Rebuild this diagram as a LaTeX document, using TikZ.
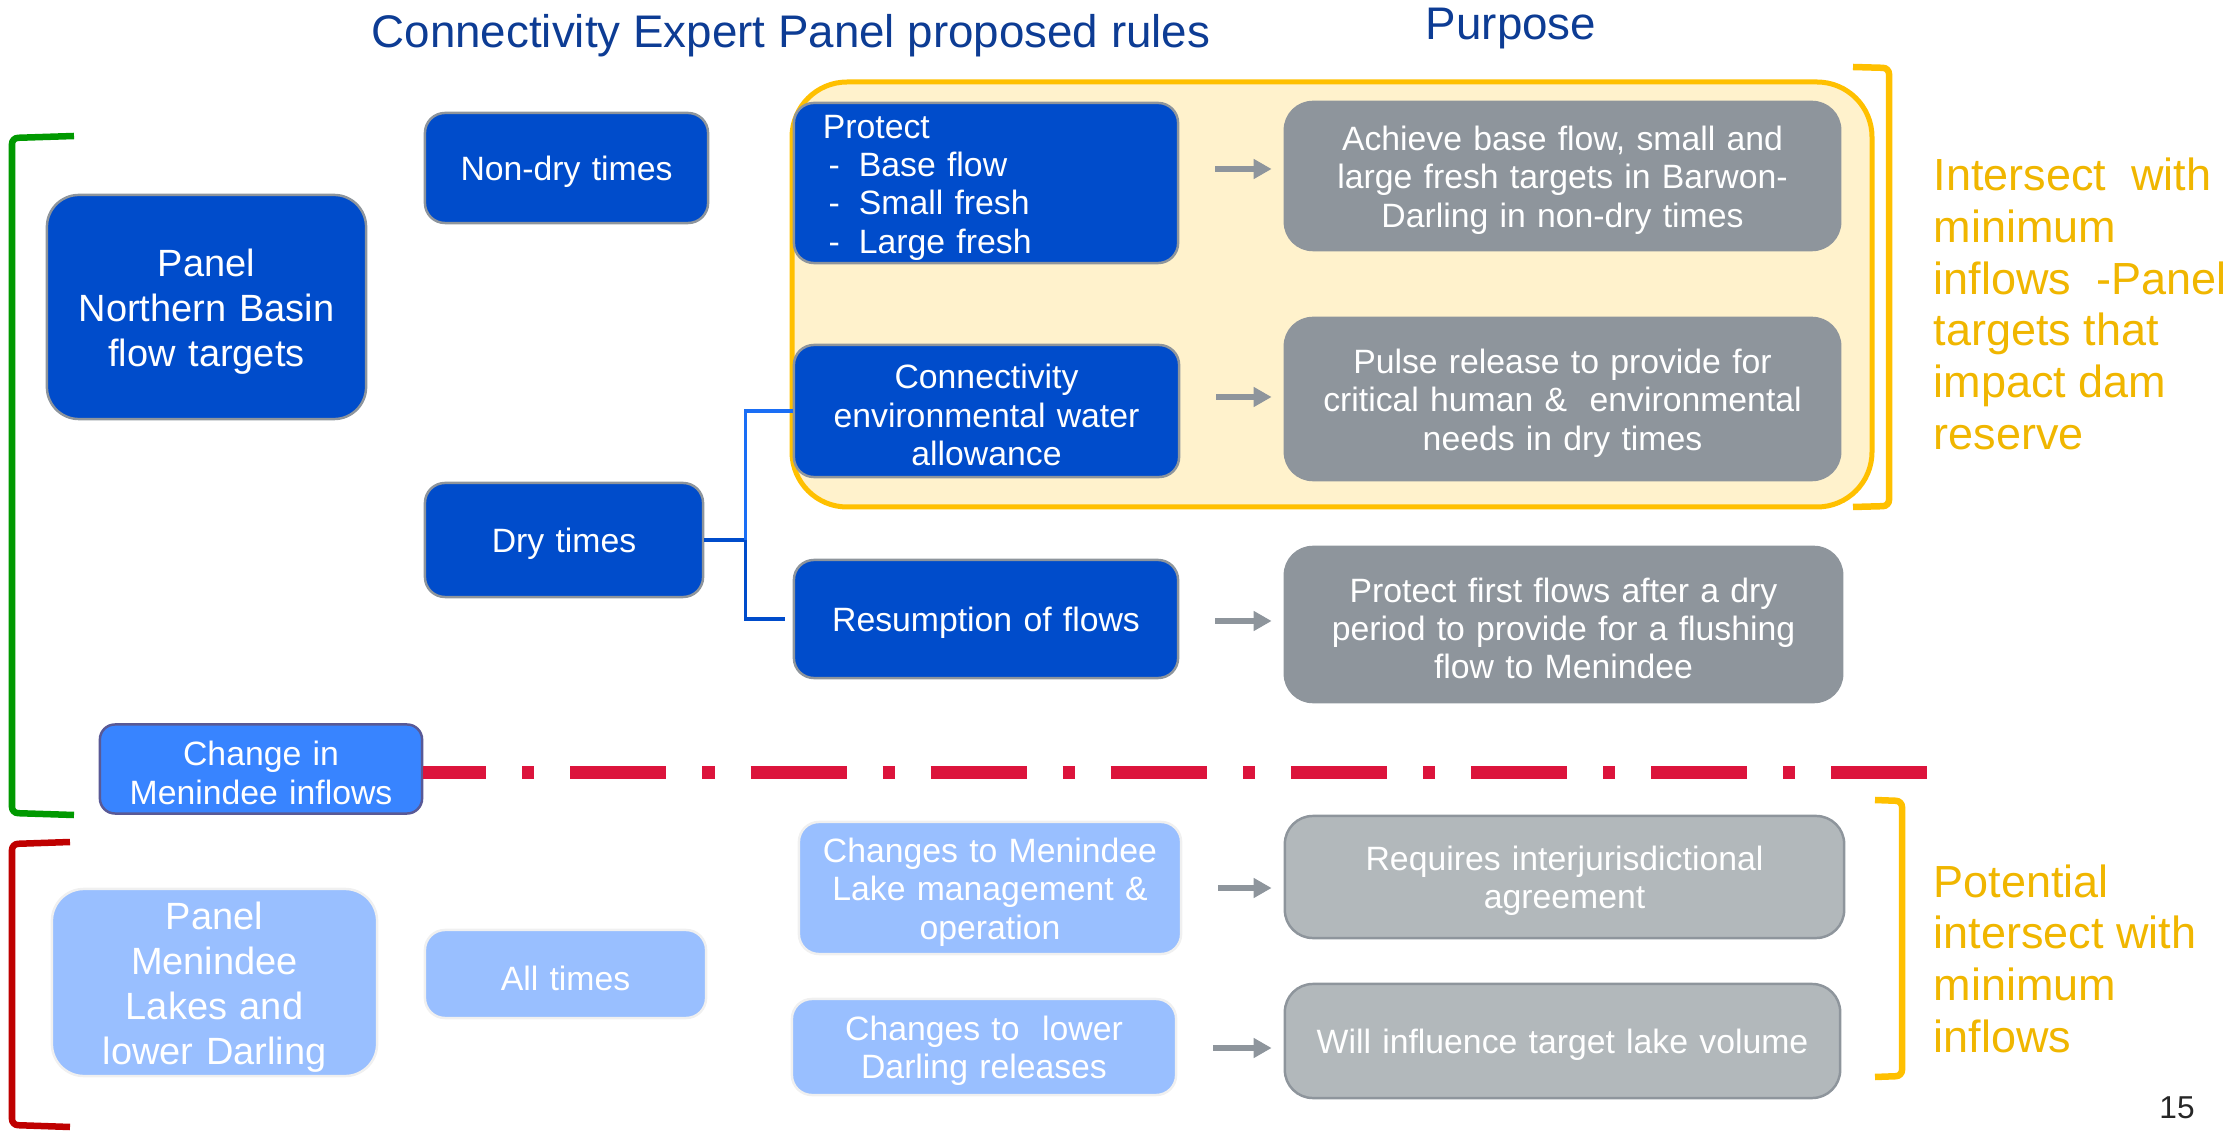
\documentclass[tikz,border=0pt]{standalone}
\usepackage{fontspec}
\setmainfont{Liberation Sans}
\usetikzlibrary{arrows.meta}

\definecolor{ruleblue}{HTML}{004CCB}
\definecolor{midblue}{HTML}{3884FF}
\definecolor{paleblue}{HTML}{99BFFF}
\definecolor{linklight}{HTML}{1A6EF5}
\definecolor{darkgrey}{HTML}{8E959C}
\definecolor{lightgrey}{HTML}{B2B8BB}
\definecolor{zonefill}{HTML}{FFF2CC}
\definecolor{amber}{HTML}{FFC000}
\definecolor{ambertext}{HTML}{F0B600}
\definecolor{headblue}{HTML}{0D3C94}
\definecolor{crimson}{HTML}{DC143C}

\newcommand{\boxfont}{\fontsize{9.6}{10.9}\selectfont}
\newcommand{\panelfont}{\fontsize{10.8}{12.8}\selectfont}
\newcommand{\notefont}{\fontsize{12.8}{14.7}\selectfont}

\tikzset{
  % boxes of the rules column
  rule/.style={draw=darkgrey, line width=0.7pt, fill=ruleblue, rounded corners=0.2cm,
    text=white, align=center, font=\boxfont, inner sep=0pt,
    execute at begin node={\rule{0pt}{0.96em}}},
  wd/.style={minimum width=#1, text width=#1},
  pale/.style={rule, draw=white!94!black, fill=paleblue},
  purpose/.style={rule, fill=darkgrey, rounded corners=0.28cm},
  purposelight/.style={purpose, fill=lightgrey},
  arr/.style={draw=darkgrey, line width=0.06cm, shorten <=0.36cm, shorten >=0.12cm,
    -{Triangle[length=0.18cm,width=0.19cm]}},
  link/.style={line width=0.033cm},
  bracket/.style={line width=0.065cm, rounded corners=0.06cm},
  note/.style={text=ambertext, font=\notefont, align=left, anchor=west, inner sep=0pt}
}

\begin{document}
\begin{tikzpicture}[x=0.01cm,y=-0.01cm]
  \useasboundingbox (0,0) rectangle (2227,1131);

  % headings
  \node[text=headblue, font=\fontsize{13}{15}\selectfont] (rulehead) at (791,36)
    {Connectivity Expert Panel proposed rules};
  \node[text=headblue, font=\fontsize{13}{15}\selectfont] (purposehead) at (1511,29) {Purpose};

  % shaded zone of the targets
  \draw[draw=amber, line width=0.05cm, fill=zonefill, rounded corners=0.55cm]
    (792,82) rectangle (1872,507);

  % brackets
  \draw[bracket, draw=green!60!black] (74,136) -- (12,138) -- (12,813) -- (74,815);
  \draw[bracket, draw=red!75!black] (70,842) -- (12,844) -- (12,1125) -- (70,1127);
  \draw[bracket, draw=amber] (1853,67) -- (1889,68) -- (1889,506) -- (1853,507);
  \draw[bracket, draw=amber] (1875,800) -- (1902,801) -- (1902,1076) -- (1875,1077);

  % panels
  \node[rule, font=\panelfont, rounded corners=0.32cm, wd=3.19cm, minimum height=2.24cm]
    (northern) at (206.5,307) {Panel\\Northern Basin\\flow targets};
  \node[pale, font=\panelfont, rounded corners=0.32cm, wd=3.25cm, minimum height=1.87cm]
    (menindee) at (214.5,982.5) {Panel\\Menindee\\Lakes and\\lower Darling};
  \node[rule, fill=midblue, draw=black!20!blue!30!gray, rounded corners=0.15cm,
    wd=3.22cm, minimum height=0.89cm]
    (change) at (261,769) {Change in\\Menindee inflows};

  % times
  \node[rule, wd=2.83cm, minimum height=1.10cm] (nondry) at (566.5,168) {Non-dry times};
  \node[rule, wd=2.78cm, minimum height=1.14cm] (dry) at (564,540) {Dry times};
  \node[pale, wd=2.81cm, minimum height=0.88cm] (alltimes) at (565.5,974) {All times};

  % rules
  \node[rule, align=left, text width=3.26cm, inner xsep=0.29cm, minimum height=1.60cm]
    (protect) at (986,183)
    {Protect\\\makebox[0.36cm][l]{\,-}Base flow\\\makebox[0.36cm][l]{\,-}Small fresh\\\makebox[0.36cm][l]{\,-}Large fresh};
  \node[rule, wd=3.85cm, minimum height=1.32cm] (conn) at (986.5,411)
    {Connectivity\\environmental water\\allowance};
  \node[rule, wd=3.84cm, minimum height=1.18cm] (resume) at (986,619) {Resumption of flows};
  \node[pale, wd=3.82cm, minimum height=1.32cm] (lakemgmt) at (990,888)
    {Changes to Menindee\\Lake management \&\\operation};
  \node[pale, wd=3.84cm, minimum height=0.96cm] (lowdarling) at (984,1047)
    {Changes to\ \ lower\\Darling releases};

  % purposes
  \node[purpose, wd=5.55cm, minimum height=1.48cm] (achieve) at (1562.5,176)
    {Achieve base flow, small and\\large fresh targets in Barwon-\\Darling in non-dry times};
  \node[purpose, wd=5.55cm, minimum height=1.62cm] (pulse) at (1562.5,399)
    {Pulse release to provide for\\critical human \&\ \ environmental\\needs in dry times};
  \node[purpose, wd=5.57cm, minimum height=1.55cm] (flush) at (1563.5,624.5)
    {Protect first flows after a dry\\period to provide for a flushing\\flow to Menindee};
  \node[purposelight, wd=5.59cm, minimum height=1.22cm] (interjur) at (1564.5,877)
    {Requires interjurisdictional\\agreement};
  \node[purposelight, wd=5.55cm, minimum height=1.14cm] (lakevol) at (1562.5,1041)
    {Will influence target lake volume};

  \foreach \a/\b/\y in {protect/achieve/169, conn/pulse/397, resume/flush/621,
                         lakemgmt/interjur/888, lowdarling/lakevol/1048}
    \draw[arr] (\a.east |- 0,\y) -- (\b.west |- 0,\y);

  % dry times splits in two
  \draw[link, draw=ruleblue, shorten >=0.08cm] (dry.east) -- ++(41,0) |- (resume.west);
  \draw[link, draw=linklight] ([xshift=0.41cm]dry.east) |- (conn.west);

  % divider
  \coordinate (divend) at (1929,772.5);
  \draw[draw=crimson, line width=0.13cm,
    dash pattern=on 0.96cm off 0.36cm on 0.12cm off 0.36cm, dash phase=0.33cm]
    (change.east |- divend) -- (divend);

  % notes
  \node[note] (upnote) at (1933,304)
    {Intersect\ \ with\\minimum\\inflows\ \ -Panel\\targets that\\impact dam\\reserve};
  \node[note] (lownote) at (1933,958.5)
    {Potential\\intersect with\\minimum\\inflows};

  \node[text=black!85, font=\fontsize{9}{10}\selectfont] (pagenum) at (2177,1108) {15};

\end{tikzpicture}
\end{document}
